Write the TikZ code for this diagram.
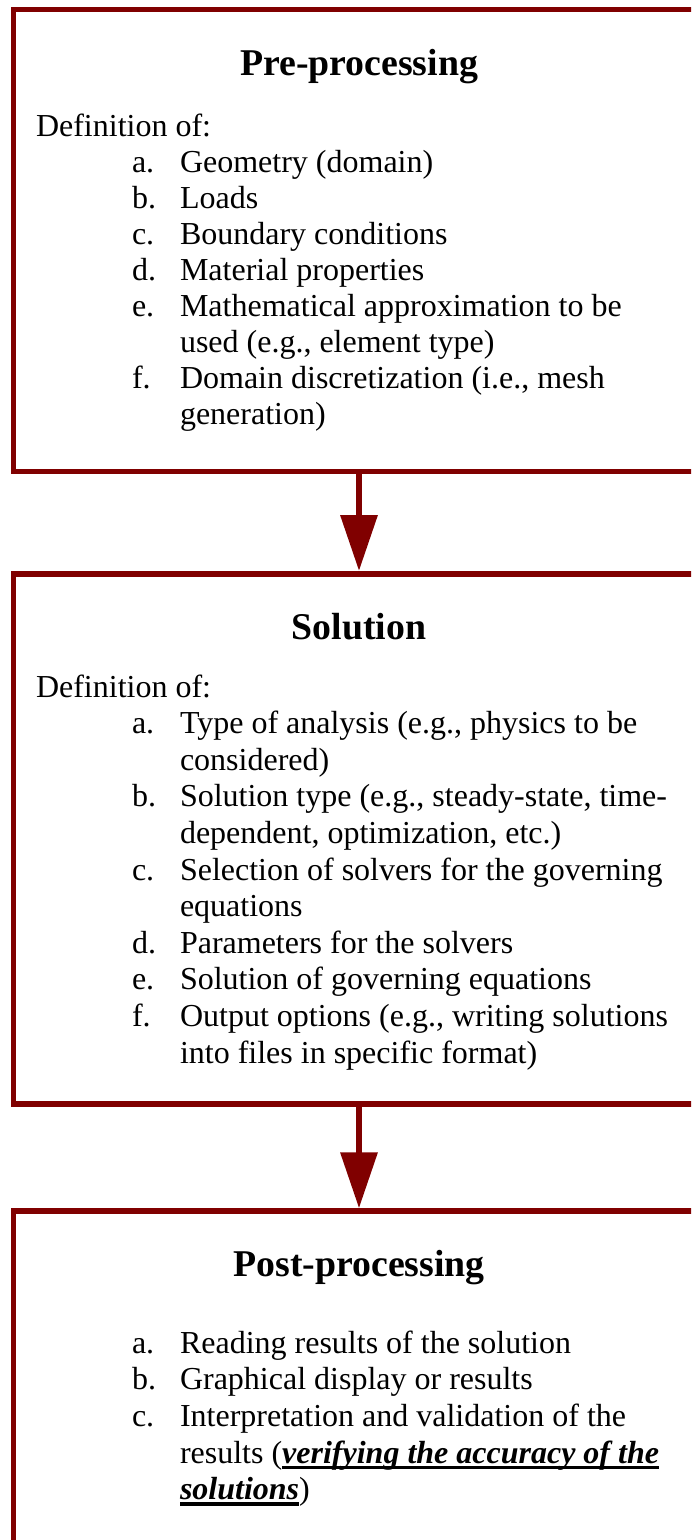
\documentclass[tikz,border=0pt]{standalone}
\usepackage{fontspec}
\setmainfont{Liberation Serif}
\usetikzlibrary{arrows.meta}
\definecolor{boxred}{HTML}{800000}
\newcommand\thickul[1]{\setbox0=\hbox{#1}\rlap{\rule[-5.7pt]{\wd0}{3.2pt}}\box0}
\tikzset{
  boxframe/.style={draw=boxred, line width=5.5pt, minimum width=691pt, outer sep=0pt, inner sep=0pt},
  body/.style={anchor=base west, inner sep=0pt, outer sep=0pt, font=\fontsize{32}{36}\selectfont},
  ttl/.style={anchor=base, inner sep=0pt, outer sep=0pt, font=\fontsize{37.8}{42}\selectfont\bfseries},
  flow/.style={draw=boxred, line width=6.5pt, -{Triangle[width=36pt,length=56pt]}}
}
\begin{document}
\begin{tikzpicture}[x=1pt,y=-1pt]
\useasboundingbox (0,0) rectangle (691,1540);
\clip (0,0) rectangle (691,1540);
% boxes
\node[boxframe, minimum height=462pt] (pre) at (359,240.5) {};
\node[boxframe, minimum height=530pt] (sol) at (359,839) {};
\node[boxframe, minimum height=389pt] (post) at (359,1405.5) {};
% connectors
\draw[flow, shorten >=3pt] (pre.south) -- (sol.north);
\draw[flow, shorten >=2.7pt] (sol.south) -- (post.north);
% Pre-processing
\node[ttl] (t1) at (359,75) {Pre-processing};
\node[body] (p0) at (36,136.7) {Definition of:};
\node[body] (p1l) at (132,172.7) {a.};
\node[body] (p1) at (180,172.7) {Geometry (domain)};
\node[body] (p2l) at (132,208.7) {b.};
\node[body] (p2) at (180,208.7) {Loads};
\node[body] (p3l) at (132,244.7) {c.};
\node[body] (p3) at (180,244.7) {Boundary conditions};
\node[body] (p4l) at (132,280.7) {d.};
\node[body] (p4) at (180,280.7) {Material properties};
\node[body] (p5l) at (132,316.7) {e.};
\node[body] (p5) at (180,316.7) {Mathematical approximation to be};
\node[body] (p6) at (180,352.7) {used (e.g., element type)};
\node[body] (p7l) at (132,388.7) {f.};
\node[body] (p7) at (180,388.7) {Domain discretization (i.e., mesh};
\node[body] (p8) at (180,424.7) {generation)};
% Solution
\node[ttl] (t2) at (359,639) {Solution};
\node[body] (s0) at (36,697) {Definition of:};
\node[body] (s1l) at (132,733.6) {a.};
\node[body] (s1) at (180,733.6) {Type of analysis (e.g., physics to be};
\node[body] (s2) at (180,770.2) {considered)};
\node[body] (s3l) at (132,806.8) {b.};
\node[body] (s3) at (180,806.8) {Solution type (e.g., steady-state, time-};
\node[body] (s4) at (180,843.4) {dependent, optimization, etc.)};
\node[body] (s5l) at (132,880) {c.};
\node[body] (s5) at (180,880) {Selection of solvers for the governing};
\node[body] (s6) at (180,916.6) {equations};
\node[body] (s7l) at (132,953.2) {d.};
\node[body] (s7) at (180,953.2) {Parameters for the solvers};
\node[body] (s8l) at (132,989.8) {e.};
\node[body] (s8) at (180,989.8) {Solution of governing equations};
\node[body] (s9l) at (132,1026.4) {f.};
\node[body] (s9) at (180,1026.4) {Output options (e.g., writing solutions};
\node[body] (s10) at (180,1063) {into files in specific format)};
% Post-processing
\node[ttl] (t3) at (359,1276) {Post-processing};
\node[body] (q1l) at (132,1353) {a.};
\node[body] (q1) at (180,1353) {Reading results of the solution};
\node[body] (q2l) at (132,1389.7) {b.};
\node[body] (q2) at (180,1389.7) {Graphical display or results};
\node[body] (q3l) at (132,1426.4) {c.};
\node[body] (q3) at (180,1426.4) {Interpretation and validation of the};
\node[body] (q4) at (180,1463.1) {results (\thickul{\textbf{\textit{verifying the accuracy of the}}}};
\node[body] (q5) at (180,1499.8) {\thickul{\textbf{\textit{solutions}}})};
\end{tikzpicture}
\end{document}
